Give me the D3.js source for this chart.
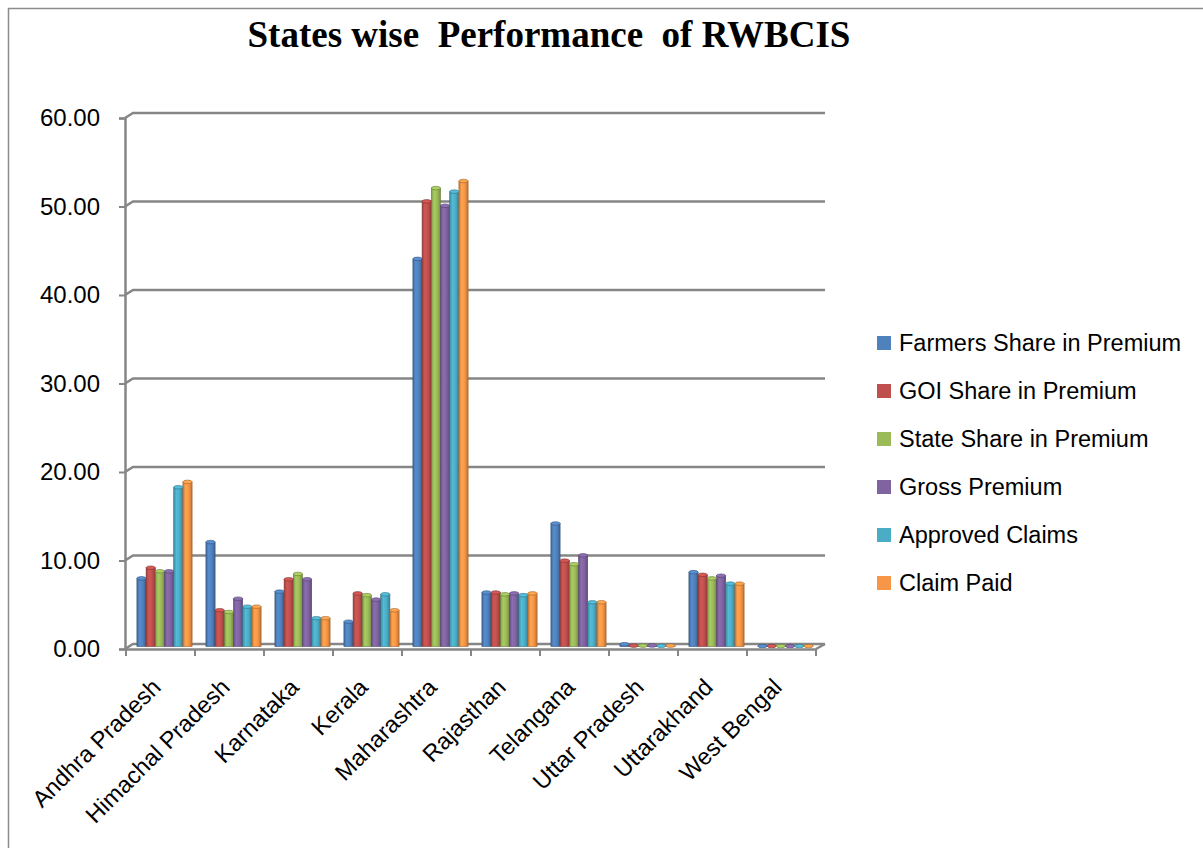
<!DOCTYPE html>
<html>
<head>
<meta charset="utf-8">
<script src="https://cdn.jsdelivr.net/npm/d3@7"></script>
<style>
  body { margin: 0; background: #fff; }
</style>
</head>
<body>
<div id="chart"></div>
<script>
const states = ["Andhra Pradesh", "Himachal Pradesh", "Karnataka", "Kerala", "Maharashtra",
  "Rajasthan", "Telangana", "Uttar Pradesh", "Uttarakhand", "West Bengal"];
const seriesNames = ["Farmers Share in Premium", "GOI Share in Premium", "State Share in Premium",
  "Gross Premium", "Approved Claims", "Claim Paid"];
const farmersShare = [7.7, 11.8, 6.2, 2.8, 43.8, 6.1, 13.9, 0.25, 8.4, 0.05];
const goiShare = [8.9, 4.1, 7.6, 6.0, 50.3, 6.1, 9.7, 0.1, 8.1, 0.05];
const stateShare = [8.5, 3.9, 8.2, 5.8, 51.8, 5.9, 9.3, 0.1, 7.7, 0.05];
const grossPremium = [8.5, 5.4, 7.6, 5.3, 49.8, 6.0, 10.3, 0.12, 8.0, 0.05];
const approvedClaims = [18.0, 4.5, 3.2, 5.9, 51.4, 5.8, 5.0, 0.08, 7.1, 0.05];
const claimPaid = [18.6, 4.5, 3.2, 4.1, 52.6, 6.0, 5.0, 0.1, 7.1, 0.05];
const yTicks = [0, 10, 20, 30, 40, 50, 60];
const colors = ["#4F81BD", "#C0504D", "#9BBB59", "#8064A2", "#4BACC6", "#F79646"];

const seriesValues = [farmersShare, goiShare, stateShare, grossPremium, approvedClaims, claimPaid];
const data = states.map((s, i) => ({
  state: s,
  values: seriesNames.map((n, j) => ({ key: n, idx: j, value: seriesValues[j][i] }))
}));

const width = 1203, height = 848;
const depth = { dx: 8, dy: -5 };
const sans = "'Liberation Sans', Arial, sans-serif";

const svg = d3.select("#chart").append("svg")
  .attr("width", width).attr("height", height);

// outer border
svg.append("rect")
  .attr("x", 8.5).attr("y", 8.5).attr("width", width + 10).attr("height", height + 10)
  .attr("fill", "none").attr("stroke", "#8c8c8c").attr("stroke-width", 1.5);

// front axis scale
const y = d3.scaleLinear().domain([0, 60]).range([649, 118]);
const x0 = d3.scaleBand().domain(states).range([126, 816]).paddingInner(0.2).paddingOuter(0.1);
const x1 = d3.scaleBand().domain(d3.range(6)).range([0, x0.bandwidth()]);

const grid = "#868686";

// gridlines on back wall + side wall
yTicks.forEach((t) => {
  const yf = y(t);
  svg.append("path")
    .attr("d", `M125,${yf} L${125 + depth.dx},${yf + depth.dy} L${816 + depth.dx + 1},${yf + depth.dy}`)
    .attr("fill", "none").attr("stroke", grid).attr("stroke-width", 2.5);
});

// floor right edge
svg.append("line")
  .attr("x1", 816).attr("y1", y(0)).attr("x2", 816 + depth.dx + 1).attr("y2", y(0) + depth.dy)
  .attr("stroke", grid).attr("stroke-width", 2.5);

// Y axis
svg.append("g")
  .attr("transform", "translate(125,0)")
  .call(d3.axisLeft(y).tickValues(yTicks).tickSize(6).tickPadding(19).tickFormat(d3.format(".2f")))
  .call((g) => g.select(".domain").attr("stroke", grid).attr("stroke-width", 2.5))
  .call((g) => g.selectAll(".tick line").attr("stroke", grid).attr("stroke-width", 2))
  .call((g) => g.selectAll("text").attr("fill", "#000")
    .style("font-size", "24px").style("font-family", sans));

// gradients for cylinder shading
const defs = svg.append("defs");
colors.forEach((c, i) => {
  const base = d3.color(c);
  const g = defs.append("linearGradient").attr("id", "grad" + i)
    .attr("x1", "0%").attr("x2", "100%").attr("y1", "0%").attr("y2", "0%");
  g.append("stop").attr("offset", "0%").attr("stop-color", base.darker(0.6));
  g.append("stop").attr("offset", "30%").attr("stop-color", base.brighter(0.25));
  g.append("stop").attr("offset", "65%").attr("stop-color", base);
  g.append("stop").attr("offset", "100%").attr("stop-color", base.darker(0.8));
});

// bars (sit half way into the depth)
const yb = (v) => y(v) + depth.dy / 2;
const groups = svg.append("g").selectAll("g")
  .data(data).enter().append("g")
  .attr("transform", (d) => `translate(${x0(d.state) + depth.dx / 2},0)`);

groups.selectAll("rect")
  .data((d) => d.values).enter().append("rect")
  .attr("x", (d) => x1(d.idx))
  .attr("y", (d) => yb(d.value))
  .attr("width", x1.bandwidth())
  .attr("height", (d) => yb(0) - yb(d.value))
  .attr("fill", (d) => `url(#grad${d.idx})`)
  .attr("stroke", (d) => d3.color(colors[d.idx]).darker(1.2))
  .attr("stroke-width", 0.6);

groups.selectAll("ellipse")
  .data((d) => d.values).enter().append("ellipse")
  .attr("cx", (d) => x1(d.idx) + x1.bandwidth() / 2)
  .attr("cy", (d) => yb(d.value))
  .attr("rx", x1.bandwidth() / 2)
  .attr("ry", 1.8)
  .attr("fill", (d) => d3.color(colors[d.idx]).brighter(0.3))
  .attr("stroke", (d) => d3.color(colors[d.idx]).darker(1.2))
  .attr("stroke-width", 0.6);

// X axis
const xAxis = svg.append("g")
  .attr("transform", `translate(0,${y(0)})`)
  .call(d3.axisBottom(x0).tickSize(0).tickFormat(""));
xAxis.select(".domain").attr("stroke", grid).attr("stroke-width", 2.5);
d3.range(states.length + 1).forEach((i) => {
  const xx = 126 + i * x0.step();
  xAxis.append("line").attr("x1", xx).attr("x2", xx).attr("y1", 0).attr("y2", 7)
    .attr("stroke", grid).attr("stroke-width", 2);
});
states.forEach((s) => {
  const cx = x0(s) + x0.bandwidth() / 2 - 10;
  svg.append("text")
    .attr("transform", `translate(${cx},${y(0) + 28}) rotate(-45)`)
    .attr("text-anchor", "end")
    .attr("dy", "0.7em")
    .style("font-size", "23.5px").style("font-family", sans)
    .text(s);
});

// Legend
const legend = svg.append("g").attr("transform", "translate(877,343)");
seriesNames.forEach((n, i) => {
  const row = legend.append("g").attr("transform", `translate(0,${i * 48})`);
  row.append("rect").attr("x", 0).attr("y", -7).attr("width", 14).attr("height", 14)
    .attr("fill", colors[i]);
  row.append("text").attr("x", 22).attr("y", 0).attr("dy", "0.35em")
    .style("font-size", "23.5px").style("font-family", sans).text(n);
});

// Title
svg.append("text")
  .attr("x", 549).attr("y", 47)
  .attr("text-anchor", "middle")
  .style("font-family", "'Liberation Serif', 'Times New Roman', serif")
  .style("font-size", "37px").style("font-weight", "bold")
  .style("white-space", "pre")
  .text("States wise  Performance  of RWBCIS");
</script>
</body>
</html>
